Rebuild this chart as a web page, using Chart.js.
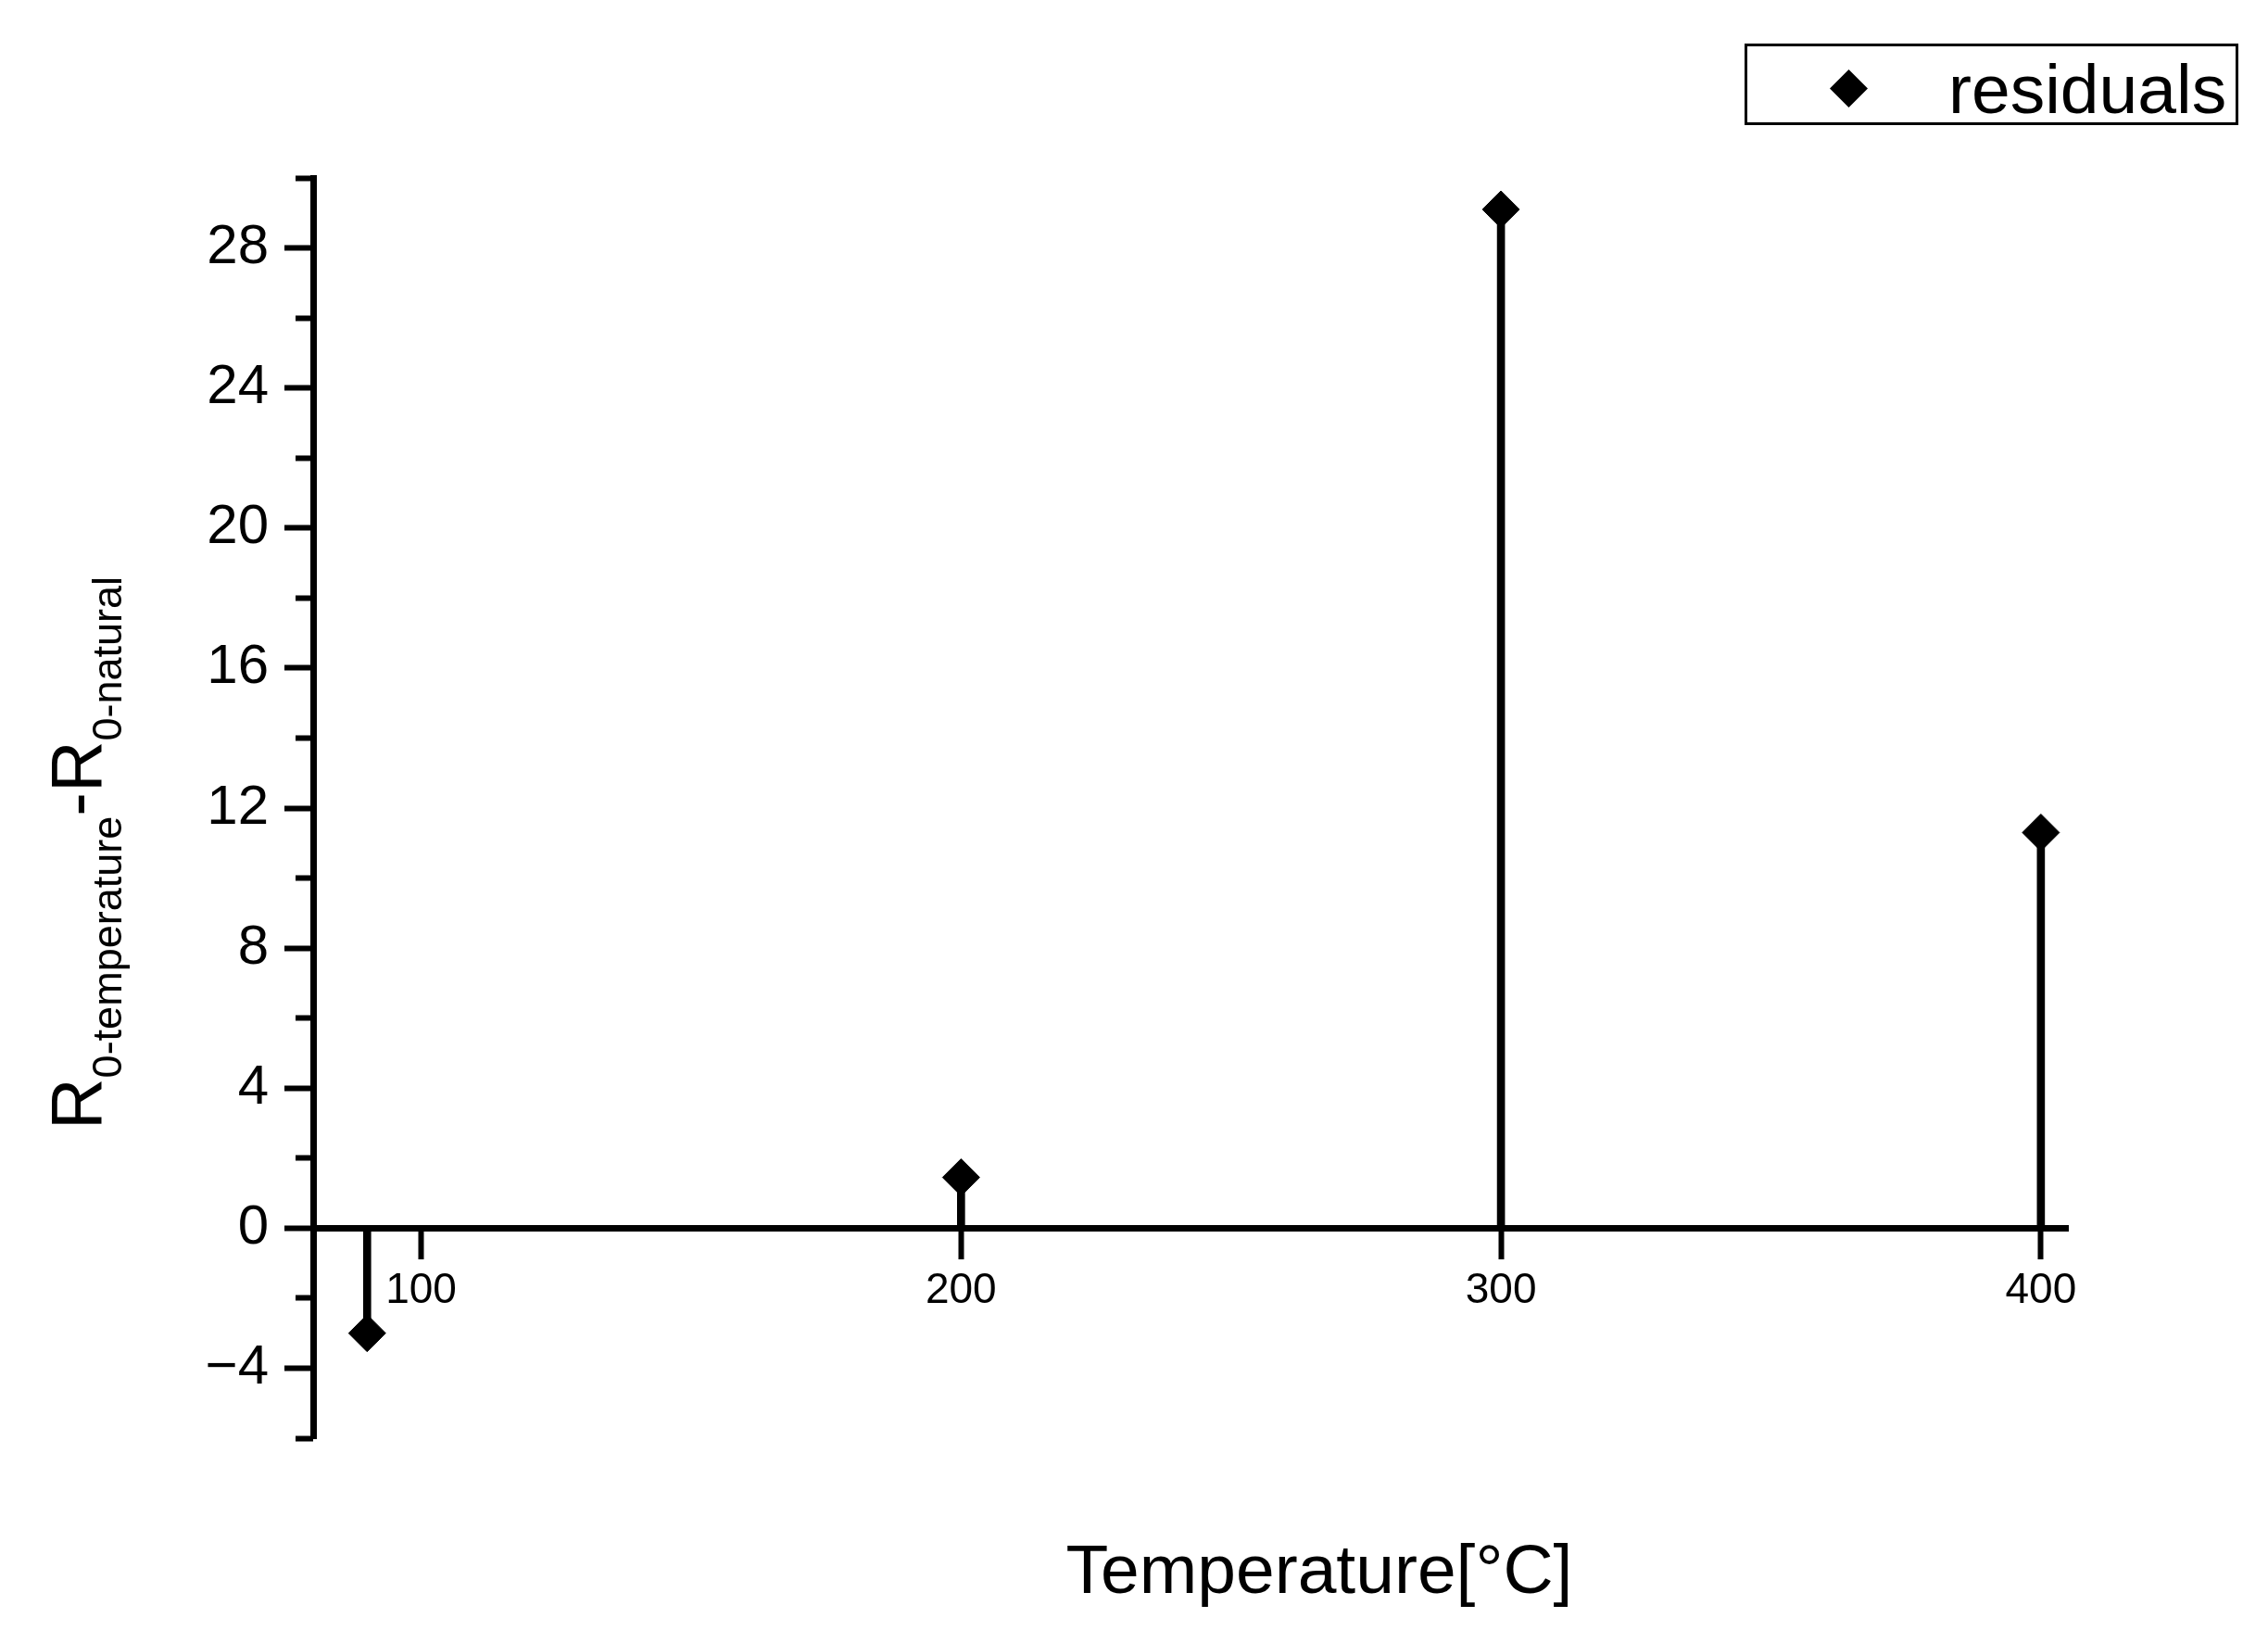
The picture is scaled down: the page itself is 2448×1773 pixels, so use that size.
<!DOCTYPE html>
<html>
<head>
<meta charset="utf-8">
<script src="https://cdn.jsdelivr.net/npm/chart.js@4.4.1/dist/chart.umd.min.js"></script>
<style>
    html, body { margin: 0; padding: 0; background: #fff; }
    #wrap { position: relative; width: 2448px; height: 1773px; font-family: "Liberation Sans", Arial, sans-serif; color: #000; }
    #chart { position: absolute; left: 0; top: 0; }
    #yTitle { position: absolute; left: 44px; top: 1219px; transform-origin: 0 0; transform: rotate(-90deg); white-space: nowrap; font-size: 77px; line-height: 77px; }
    #yTitle .sub { font-size: 45px; line-height: 1; position: relative; top: 22px; }
    #xTitle { position: absolute; left: 1024px; top: 1656px; width: 800px; text-align: center; font-size: 75px; line-height: 75px; white-space: nowrap; }
    #legend { position: absolute; left: 1883px; top: 47px; width: 527px; height: 82px; border: 3px solid #000; }
    #legend .marker { position: absolute; left: 95px; top: 31px; width: 29px; height: 29px; background: #000; transform: rotate(45deg); }
    #legendText { position: absolute; left: 217px; top: 9px; font-size: 75px; line-height: 75px; white-space: nowrap; }
</style>
</head>
<body>
<div id="wrap">
    <canvas id="chart" width="2448" height="1773"></canvas>
    <div id="yTitle">R<span class="sub">0-temperature</span>-R<span class="sub">0-natural</span></div>
    <div id="xTitle">Temperature[°C]</div>
    <div id="legend"><div class="marker"></div><span id="legendText"></span></div>
</div>
<script>
const temperatures = [90, 200, 300, 400]
const residuals = [-3.0, 1.45, 29.1, 11.3]
const seriesLabel = "residuals"

const xTicks = [100, 200, 300, 400]
const yMajorTicks = [-4, 0, 4, 8, 12, 16, 20, 24, 28]
const yMinorTicks = [-6, -2, 2, 6, 10, 14, 18, 22, 26, 30]
const xRange = [80, 405]
const yRange = [-6, 30]

Chart.defaults.font.family = "'Liberation Sans', Arial, sans-serif"
Chart.defaults.color = "#000"

const points = temperatures.map((t, i) => ({ x: t, y: residuals[i] }))

// replace the generated ticks with the ones
function fixedTicks(values) {
    return (scale) => {
        scale.ticks = values.map((value) => ({ value }))
    }
}

function tickLabel(value) {
    return String(value).replace("-", "\u2212")
}

document.getElementById("legendText").textContent = seriesLabel

new Chart(document.getElementById("chart"), {
    type: "bar",
    data: {
        datasets: [
            {
                type: "scatter",
                label: seriesLabel,
                data: points,
                xAxisID: "x",
                yAxisID: "y",
                pointStyle: "rectRot",
                pointRadius: 20,
                backgroundColor: "#000",
                borderColor: "#000",
                borderWidth: 1,
                order: 0
            },
            {
                type: "bar",
                label: seriesLabel,
                data: points,
                xAxisID: "x",
                yAxisID: "y",
                backgroundColor: "#000",
                borderWidth: 0,
                barThickness: 8,
                order: 1
            }
        ]
    },
    options: {
        responsive: false,
        animation: false,
        events: [],
        layout: {
            padding: { left: 0, top: 192, right: 216, bottom: 221 }
        },
        plugins: {
            legend: { display: false },
            tooltip: { enabled: false }
        },
        scales: {
            y: {
                type: "linear",
                axis: "y",
                position: "left",
                min: yRange[0],
                max: yRange[1],
                afterBuildTicks: fixedTicks(yMajorTicks),
                afterFit: (scale) => { scale.width = 338 },
                border: { color: "#000", width: 7 },
                grid: { drawOnChartArea: false, tickLength: 31, tickWidth: 6, tickColor: "#000" },
                ticks: { color: "#000", font: { size: 60 }, padding: 17, callback: tickLabel }
            },
            yMinor: {
                type: "linear",
                axis: "y",
                position: { x: xRange[0] },
                min: yRange[0],
                max: yRange[1],
                afterBuildTicks: fixedTicks(yMinorTicks),
                border: { display: false },
                grid: { drawOnChartArea: false, tickLength: 19, tickWidth: 6, tickColor: "#000" },
                ticks: { display: false }
            },
            x: {
                type: "linear",
                axis: "x",
                position: { y: 0 },
                min: xRange[0],
                max: xRange[1],
                offset: false,
                afterBuildTicks: fixedTicks(xTicks),
                border: { color: "#000", width: 7 },
                grid: { drawOnChartArea: false, offset: false, tickLength: 30, tickWidth: 6, tickColor: "#000" },
                ticks: { color: "#000", font: { size: 46 }, padding: 10, maxRotation: 0, autoSkip: false, callback: tickLabel }
            }
        }
    }
})
</script>
</body>
</html>
